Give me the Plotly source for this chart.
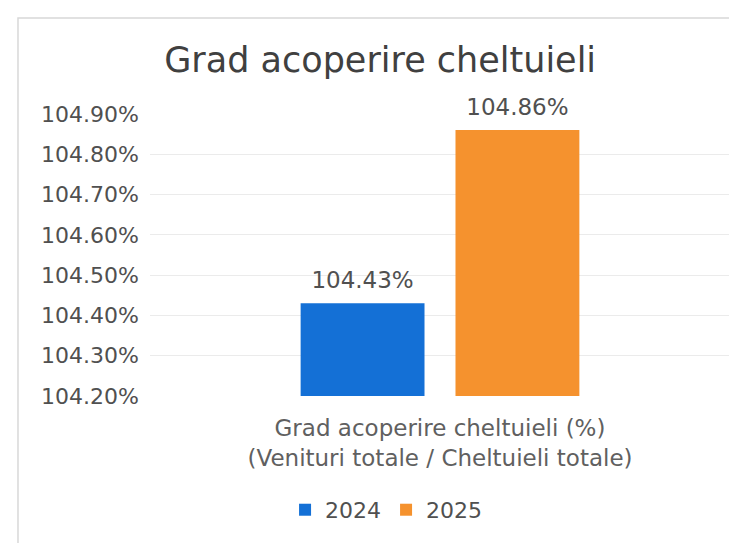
import plotly.graph_objects as go

# date
categorii = ["Grad acoperire cheltuieli (%)<br>(Venituri totale / Cheltuieli totale)"]
ani = ["2024", "2025"]
valori_2024 = [104.43]
valori_2025 = [104.86]
culori = {"2024": "#1470D6", "2025": "#F5922E"}

FONT = "DejaVu Sans, sans-serif"

fig = go.Figure()
for an, val in zip(ani, [valori_2024, valori_2025]):
    fig.add_trace(go.Bar(
        x=categorii, y=val, name=an,
        marker=dict(color=culori[an], line=dict(width=0)),
        offsetgroup=an,
        hoverinfo="skip",
    ))
# etichetele de valoare, ceva mai sus decat "outside" de la bar
for an, val in zip(ani, [valori_2024, valori_2025]):
    fig.add_trace(go.Scatter(
        x=categorii, y=val, mode="markers+text", showlegend=False,
        marker=dict(size=14, opacity=0),
        text=[f"{v:.2f}%" for v in val],
        textposition="top center",
        textfont=dict(size=23, color="#505050", family=FONT),
        offsetgroup=an, orientation="v",
        cliponaxis=False, hoverinfo="skip",
    ))

# pagina are 8px margine implicita, deci totul e mutat cu 8px sus/stanga
fig.update_layout(
    width=737, height=543,
    margin=dict(l=142, r=15, t=106, b=155),
    paper_bgcolor="white", plot_bgcolor="white",
    font=dict(family=FONT, color="#505050"),
    title=dict(text="Grad acoperire cheltuieli", x=0.505, xanchor="center",
               y=0.905, yanchor="middle", font=dict(size=35, color="#404040")),
    barmode="group", bargap=0.466, bargroupgap=0.2,
    scattermode="group", scattergap=0.466,
    showlegend=True,
    legend=dict(orientation="h", x=0.407, xanchor="center", y=-0.404, yanchor="middle",
                font=dict(size=22, color="#505050")),
)
fig.update_yaxes(range=[104.2, 104.9], dtick=0.1, tickformat=".2f", ticksuffix="%",
                 showgrid=True, gridcolor="#EBEBEB", zeroline=False,
                 tickfont=dict(size=22, color="#505050"), ticks="",
                 ticklabelstandoff=10)
fig.update_xaxes(tickfont=dict(size=23, color="#606060"), showline=False, ticks="",
                 ticklabelstandoff=16)

# chenarul graficului
fig.add_shape(type="rect", xref="paper", yref="paper",
              x0=-0.2276, x1=1.05, y0=-0.6, y1=1.34,
              line=dict(color="#D8D8D8", width=1.5), layer="below")

fig.write_html("out.html")
